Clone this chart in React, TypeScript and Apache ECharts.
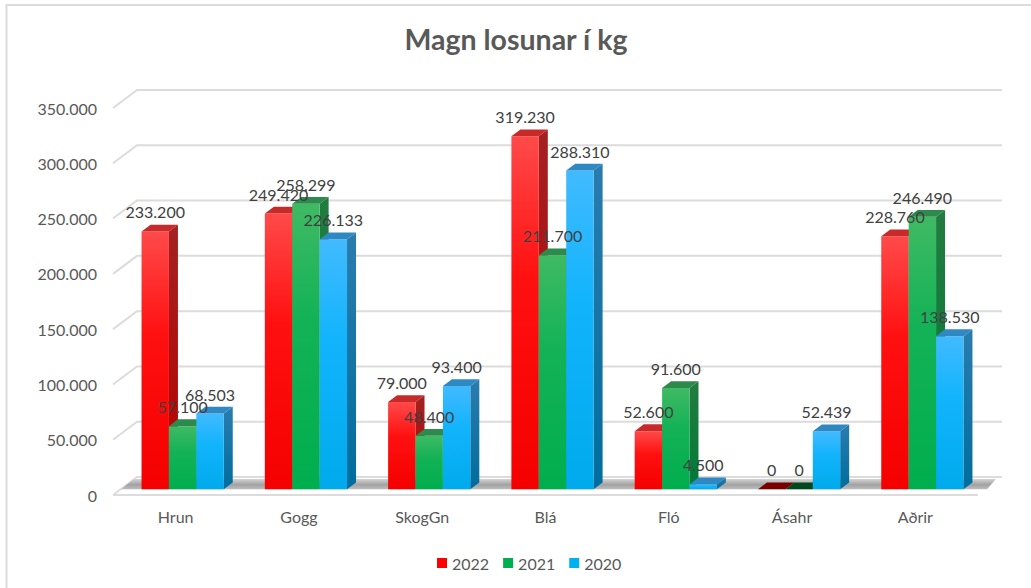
import React, { useEffect, useRef } from "react";
import * as echarts from "echarts";

const categories = ["Hrun", "Gogg", "SkogGn", "Blá", "Fló", "Ásahr", "Aðrir"];
const values2022 = [233200, 249420, 79000, 319230, 52600, 0, 228760];
const values2021 = [57100, 258299, 48400, 211700, 91600, 0, 246490];
const values2020 = [68503, 226133, 93400, 288310, 4500, 52439, 138530];
const gridTicks = [0, 50000, 100000, 150000, 200000, 250000, 300000, 350000];

const fmt = (v: number) =>
  v === 0 ? "0" : String(Math.round(v)).replace(/\B(?=(\d{3})+$)/g, ".");

const FONT = "Lato";
const BAR_W = 27.4;
const DX = 9;
const DY = -6.8;
const BASE_SHIFT = -5.7;
const GROUP_SHIFT = 7;

const grad = (stops: [number, string][]) =>
  new echarts.graphic.LinearGradient(
    0, 0, 0, 1,
    stops.map(([offset, color]) => ({ offset, color }))
  );

const looks = [
  {
    name: "2022", data: values2022, flat: "#ff0000",
    front: [[0, "#ff4a4a"], [0.4, "#ff1010"], [1, "#f40000"]],
    side: [[0, "#a32222"], [1, "#b80000"]],
    top: "#c82a2a", zero: "#7a0000",
  },
  {
    name: "2021", data: values2021, flat: "#00b050",
    front: [[0, "#3fba63"], [0.4, "#14b257"], [1, "#00ae4e"]],
    side: [[0, "#237c40"], [1, "#007a37"]],
    top: "#2c8a4c", zero: "#00491f",
  },
  {
    name: "2020", data: values2020, flat: "#00b0f0",
    front: [[0, "#42baff"], [0.4, "#12b4fc"], [1, "#00aaec"]],
    side: [[0, "#2a7cae"], [1, "#006d9e"]],
    top: "#2e88c2", zero: "#005f8a",
  },
] as const;

const barSeries = (look: (typeof looks)[number], idx: number) => ({
  type: "custom",
  name: look.name,
  z: 5 + idx,
  clip: false,
  silent: true,
  itemStyle: { color: look.flat },
  encode: { x: 0, y: 1 },
  data: look.data.map((v, i) => [i, v]),
  renderItem: (_p: any, api: any) => {
    const i = api.value(0);
    const v = api.value(1);
    const [cx, yTop0] = api.coord([i, v]);
    const [, yBase0] = api.coord([i, 0]);
    const yTop = yTop0 + BASE_SHIFT;
    const yBase = yBase0 + BASE_SHIFT;
    const x0 = cx + GROUP_SHIFT + (idx - 1.5) * BAR_W;
    const x1 = x0 + BAR_W;
    const children: any[] = [];
    if (v > 0) {
      children.push({
        type: "polygon",
        shape: { points: [[x1, yTop], [x1 + DX, yTop + DY], [x1 + DX, yBase + DY], [x1, yBase]] },
        style: { fill: grad(look.side as any) },
      });
      children.push({
        type: "rect",
        shape: { x: x0, y: yTop, width: BAR_W, height: yBase - yTop },
        style: { fill: grad(look.front as any) },
      });
    }
    children.push({
      type: "polygon",
      shape: { points: [[x0, yTop], [x0 + DX, yTop + DY], [x1 + DX, yTop + DY], [x1, yTop]] },
      style: { fill: v > 0 ? look.top : look.zero },
    });
    return { type: "group", children };
  },
});

const labelSeries = (look: (typeof looks)[number], idx: number) => ({
  type: "custom",
  z: 20,
  clip: false,
  silent: true,
  encode: { x: 0, y: 1 },
  data: look.data.map((v, i) => [i, v]),
  renderItem: (_p: any, api: any) => {
    const i = api.value(0);
    const v = api.value(1);
    const [cx, yTop] = api.coord([i, v]);
    const x = cx + GROUP_SHIFT + (idx - 1) * BAR_W;
    return {
      type: "text",
      style: {
        x,
        y: yTop + BASE_SHIFT - 19.5,
        text: fmt(v),
        fill: "#404040",
        font: `16px ${FONT}`,
        align: "center",
        verticalAlign: "middle",
      },
    };
  },
});

const wallSeries = {
  type: "custom",
  z: 1,
  clip: false,
  silent: true,
  encode: { y: 0 },
  data: gridTicks.map((t) => [t]),
  renderItem: (p: any, api: any) => {
    const cs = p.coordSys;
    const t = api.value(0);
    const y = api.coord([0, t])[1];
    const left = cs.x - 1;
    const lineStyle = { fill: "none", stroke: "#dcdcdc", lineWidth: 2 };
    const children: any[] = [
      {
        type: "polyline",
        shape: { points: [[left, y], [left + 24, y - 18], [left + 889, y - 18]] },
        style: lineStyle,
      },
    ];
    if (t === 0) {
      children.push({
        type: "polygon",
        shape: { points: [[left + 8, y - 5.7], [left + 21, y - 16], [left + 883, y - 16], [left + 874, y - 5.7]] },
        style: { fill: grad([[0, "#d4d4d4"], [0.55, "#a2a2a2"], [1, "#bdbdbd"]]) },
      });
      children.push({
        type: "line",
        shape: { x1: left, y1: y, x2: left + 865, y2: y },
        style: lineStyle,
      });
    }
    return { type: "group", children };
  },
};

const option = {
  animation: false,
  backgroundColor: "#ffffff",
  title: {
    text: "Magn losunar í kg",
    left: 516,
    top: 24,
    padding: 0,
    textAlign: "center",
    textStyle: { fontFamily: FONT, fontSize: 28.5, fontWeight: "bold", color: "#595959" },
  },
  legend: {
    data: looks.map((l) => l.name),
    left: 437,
    top: 555,
    padding: 0,
    icon: "rect",
    itemWidth: 10,
    itemHeight: 10,
    itemGap: 14,
    textStyle: { fontFamily: FONT, fontSize: 16, color: "#595959", padding: [0, 0, 0, 0] },
  },
  grid: { left: 114, top: 108, width: 863, height: 387 },
  xAxis: {
    type: "category",
    data: categories,
    axisLine: { show: false },
    axisTick: { show: false },
    axisLabel: { fontFamily: FONT, fontSize: 16, color: "#595959", margin: 13 },
  },
  yAxis: {
    type: "value",
    min: 0,
    max: 350000,
    interval: 50000,
    axisLine: { show: false },
    axisTick: { show: false },
    splitLine: { show: false },
    axisLabel: { fontFamily: FONT, fontSize: 16, color: "#595959", margin: 17, formatter: fmt },
  },
  graphic: [
    {
      type: "polyline",
      silent: true,
      z: -1,
      shape: { points: [[6.5, 588], [6.5, 5], [1031, 5]] },
      style: { fill: "none", stroke: "#dcdcdc", lineWidth: 2 },
    },
  ],
  series: [
    wallSeries,
    ...looks.map(barSeries),
    ...looks.map(labelSeries),
  ],
};

export default function App() {
  const ref = useRef<HTMLDivElement>(null);
  useEffect(() => {
    const chart = echarts.init(ref.current!, undefined, { renderer: "svg" });
    chart.setOption(option as any);
    return () => chart.dispose();
  }, []);
  return (
    <div
      ref={ref}
      style={{ position: "absolute", left: 0, top: 0, width: 1031, height: 588 }}
    />
  );
}
